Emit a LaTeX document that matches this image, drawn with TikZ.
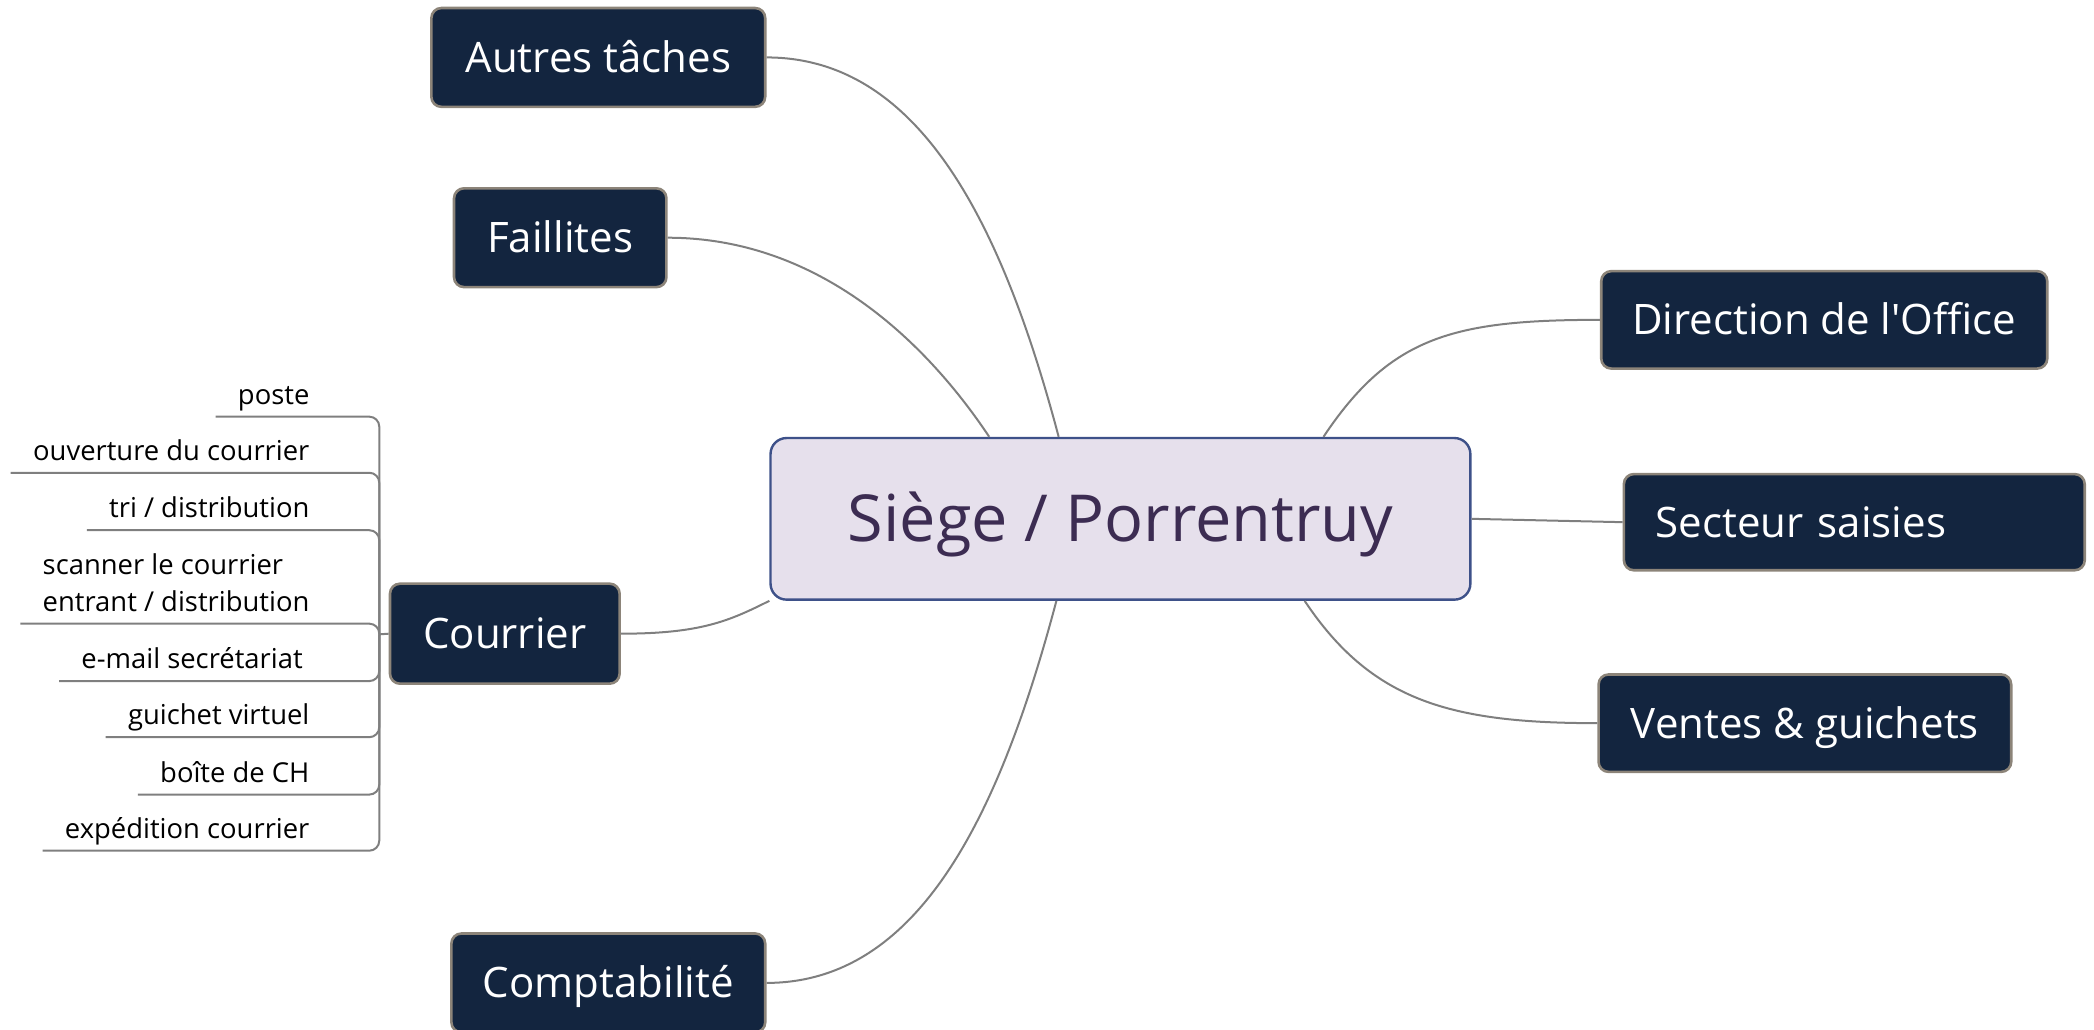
\documentclass[tikz,border=0pt]{standalone}
\usepackage{fontspec}
\setmainfont{Open Sans}
\usepackage{xcolor}
\usetikzlibrary{positioning}
\definecolor{navy}{HTML}{13253F}
\definecolor{boxgray}{HTML}{8C8479}
\definecolor{hubfill}{HTML}{E6E0EC}
\definecolor{hubline}{HTML}{3E5189}
\definecolor{hubtext}{HTML}{3C2C52}
\definecolor{linegray}{HTML}{7F7F7F}

\begin{document}
\begin{tikzpicture}[x=0.6677pt,y=-0.6677pt]
% Define styles
\tikzstyle{branch} = [rectangle, rounded corners=5pt, draw=boxgray, line width=1.3pt, fill=navy, text=white, font=\fontsize{21}{25}\selectfont, text height=15pt, text depth=0pt, inner sep=0pt]
\tikzstyle{hub} = [rectangle, rounded corners=8pt, draw=hubline, line width=1.2pt, fill=hubfill, text=hubtext, font=\fontsize{32.4}{38}\selectfont, text height=23.1pt, text depth=0pt, inner sep=0pt, minimum width=349.9pt, minimum height=80.8pt]
\tikzstyle{item} = [anchor=south east, inner xsep=0pt, inner ysep=2.5pt, text depth=3.4pt, align=left, font=\fontsize{13.7}{18.7}\selectfont]
\tikzstyle{link} = [draw=linegray, line width=1pt]
\useasboundingbox (0,0) rectangle (1568,771);
\clip (0,0) rectangle (1568,771);
% Define nodes
\node[hub] (siege) at (839,388.5) {Siège / Porrentruy};
\node[branch, minimum width=166.9pt, minimum height=49.4pt] (autres) at (448,43) {Autres tâches};
\node[branch, minimum width=106.2pt, minimum height=49.4pt] (faillites) at (419.5,178) {Faillites};
\node[branch, minimum width=114.8pt, minimum height=50pt] (courrier) at (378,474.5) {Courrier};
\node[branch, minimum width=156.9pt, minimum height=49.4pt] (compta) at (455.5,736) {Comptabilité};
\node[branch, minimum width=223pt, minimum height=48.7pt] (direction) at (1366,239.5) {Direction de l\textquotesingle Office};
\node[branch, text width=198.4pt, inner xsep=16pt, align=left, minimum height=48.1pt] (saisies) at (1388.5,391) {Secteur saisies};
\node[branch, minimum width=206.3pt, minimum height=48.7pt] (ventes) at (1351.5,541.5) {Ventes \& guichets};
\coordinate (jct) at (284,475);
\node[item] (poste) at (232,312) {poste};
\node[item] (ouverture) at (232,354) {ouverture du courrier};
\node[item] (tri) at (232,397) {tri / distribution};
\node[item] (scanner) at (232,467) {scanner le courrier\\entrant / distribution};
\node[item] (email) at (227,510) {e-mail secrétariat};
\node[item] (guichet) at (232,552) {guichet virtuel};
\node[item] (boite) at (232,595) {boîte de CH};
\node[item] (expedition) at (232,637) {expédition courrier};
% Connect the nodes
\draw[link] (autres.east) .. controls +(110,0) and +(-45,-170) .. (siege.127.8);
\draw[link] (faillites.east) .. controls +(110,0) and +(-50,-75) .. (siege.148.3);
\draw[link] (courrier.east) .. controls +(60,0) and +(-30,15) .. (siege.south west);
\draw[link] (compta.east) .. controls +(110,0) and +(-45,170) .. (siege.232.2);
\draw[link] (direction.west) .. controls +(-110,0) and +(50,-75) .. (siege.22.5);
\draw[link] (saisies.west) -- (siege.east);
\draw[link] (ventes.west) .. controls +(-110,0) and +(50,75) .. (siege.336.8);
\draw[link] (courrier.west) -- (jct);
\draw[link, rounded corners=5pt] (jct) |- ([xshift=-11pt]poste.south west);
\draw[link, rounded corners=5pt] (jct) |- ([xshift=-11pt]ouverture.south west);
\draw[link, rounded corners=5pt] (jct) |- ([xshift=-11pt]tri.south west);
\draw[link, rounded corners=5pt] (jct) |- ([xshift=-11pt]scanner.south west);
\draw[link, rounded corners=5pt] (jct) |- ([xshift=-11pt]email.south west);
\draw[link, rounded corners=5pt] (jct) |- ([xshift=-11pt]guichet.south west);
\draw[link, rounded corners=5pt] (jct) |- ([xshift=-11pt]boite.south west);
\draw[link, rounded corners=5pt] (jct) |- ([xshift=-11pt]expedition.south west);
\end{tikzpicture}
\end{document}
